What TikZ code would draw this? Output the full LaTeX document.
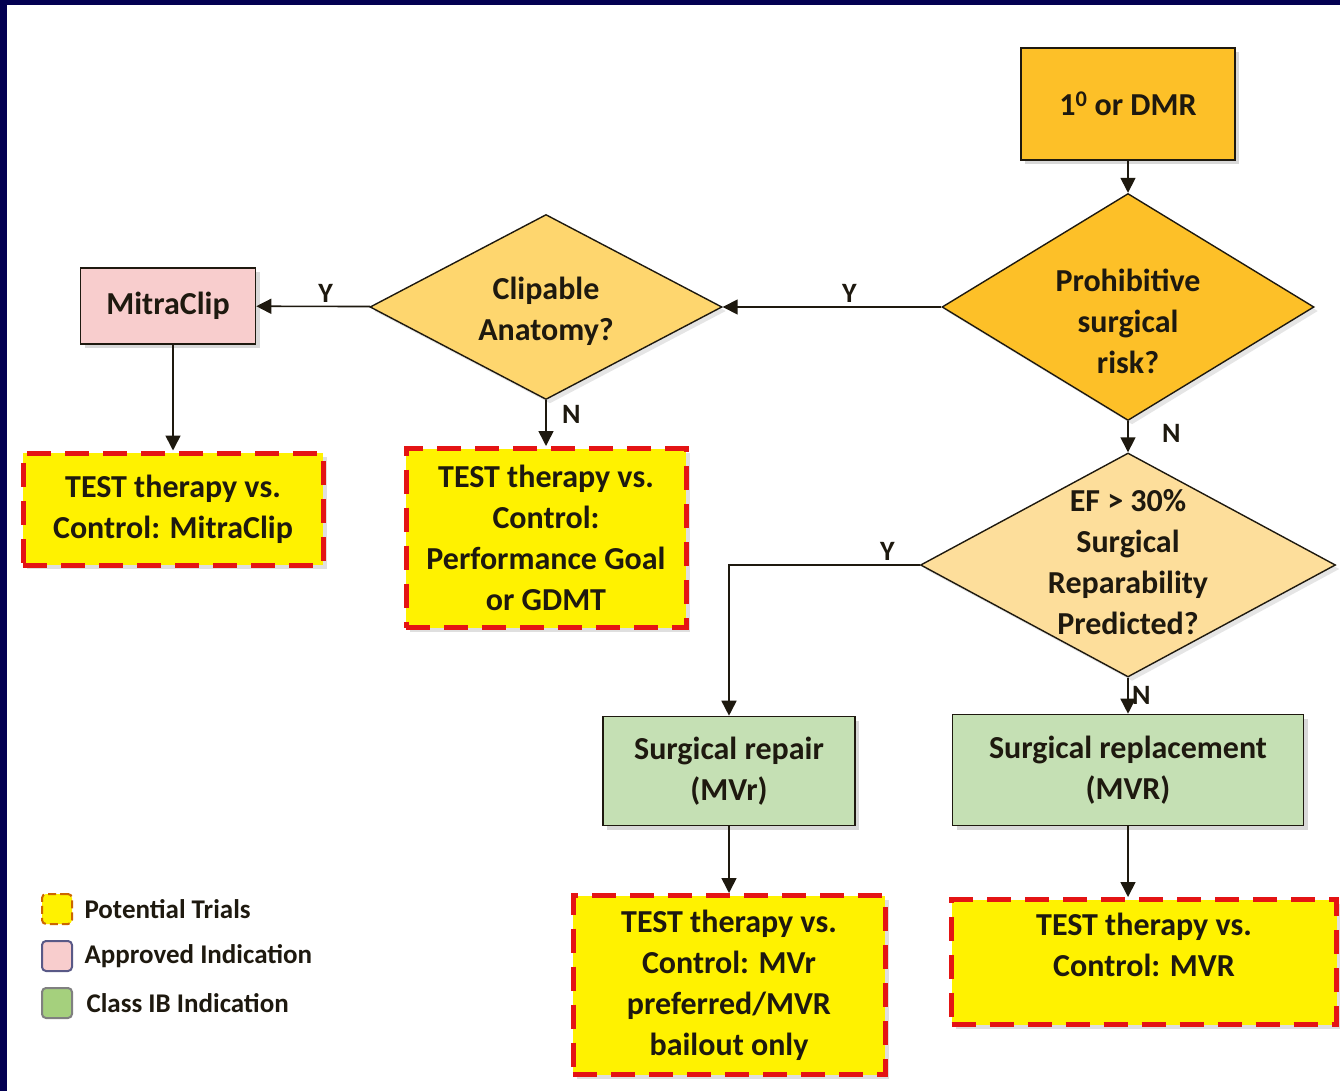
\documentclass[tikz,border=0pt]{standalone}
\usepackage{fontspec}
\setmainfont{Carlito}
\usepackage{tikz}
\usetikzlibrary{shapes.geometric, arrows.meta, positioning, shadows, calc}
\definecolor{navy}{RGB}{3,0,82}
\definecolor{gold}{RGB}{253,192,40}
\definecolor{palegold}{RGB}{254,214,110}
\definecolor{sand}{RGB}{253,222,155}
\definecolor{blush}{RGB}{248,205,205}
\definecolor{sage}{RGB}{197,224,180}
\definecolor{leaf}{RGB}{165,208,125}
\definecolor{dashred}{RGB}{228,20,20}
\definecolor{ink}{RGB}{30,25,15}

\begin{document}
\begin{tikzpicture}[
    x=1pt, y=-1pt,
    every node/.style={font=\fontsize{32}{41}\selectfont\bfseries, text=ink},
    box/.style={rectangle, draw=ink, line width=1.6pt, align=center, drop shadow={shadow xshift=4pt, shadow yshift=-4pt, opacity=.3}},
    trial/.style={rectangle, fill=yellow, draw=dashred, line width=5pt, dash pattern=on 24pt off 14pt, align=center, drop shadow={shadow xshift=4pt, shadow yshift=-4pt, opacity=.25}},
    decision/.style={diamond, draw=ink, line width=1.4pt, inner sep=0pt, drop shadow={shadow xshift=4pt, shadow yshift=-4pt, opacity=.2}},
    arrow/.style={-{Triangle[length=15pt,width=15pt]}, line width=1.6pt, draw=ink},
    lbl/.style={font=\fontsize{28}{30}\selectfont\bfseries},
    key/.style={rectangle, rounded corners=4pt, minimum width=30pt, minimum height=30pt, line width=2pt},
    keytext/.style={font=\fontsize{27}{30}\selectfont\bfseries}
]
\useasboundingbox (0,0) rectangle (1340,1091);
\fill[navy] (0,0) rectangle (1340,1091);
\fill[white] (7,5) rectangle (1340,1091);

% Decisions
\node[box, fill=gold, minimum width=214pt, minimum height=112pt] (start) at (1128,104) {1\textsuperscript{0} or DMR};
\node[decision, fill=gold, minimum width=372pt, minimum height=227pt] (risk) at (1128,307) {};
\node[align=center] at ($(risk)+(0,14)$) {Prohibitive\\surgical\\risk?};
\node[decision, fill=palegold, minimum width=352pt, minimum height=185pt] (clip) at (546,307) {};
\node[align=center] at ($(clip)+(0,4)$) {Clipable\\Anatomy?};
\node[decision, fill=sand, minimum width=415pt, minimum height=224pt] (ef) at (1128,565) {};
\node[align=center] at ($(ef)+(0,-3)$) {EF > 30\%\\Surgical\\Reparability\\Predicted?};

% Indications
\node[box, fill=blush, minimum width=175pt, minimum height=76pt] (mitra) at (168,306) {MitraClip};
\node[box, fill=sage, minimum width=252pt, minimum height=109pt] (repair) at (729,771) {Surgical repair\\(MVr)};
\node[box, fill=sage, minimum width=351pt, minimum height=111pt] (replace) at (1128,770) {Surgical replacement\\(MVR)};

% Potential trials
\node[trial, minimum width=300pt, minimum height=112pt] (trialA) at (173,509) {TEST therapy vs.\\Control: MitraClip};
\node[trial, minimum width=280pt, minimum height=179pt] (trialB) at (546,538) {TEST therapy vs.\\Control:\\Performance Goal\\or GDMT};
\node[trial, minimum width=312pt, minimum height=179pt] (trialC) at (729,985) {TEST therapy vs.\\Control: MVr\\preferred/MVR\\bailout only};
\node[trial, minimum width=385pt, minimum height=125pt] (trialD) at (1144,962) {TEST therapy vs.\\Control: MVR\\[-6pt]};

% Arrows
\draw[arrow] (start) -- (risk);
\draw[arrow] (risk) -- node[lbl, above, pos=.42] {Y} (clip);
\draw[arrow] (clip) -- node[lbl, above, pos=.39] {Y} (mitra);
\draw[arrow] (mitra.south -| trialA.north) -- (trialA);
\draw[arrow] (clip) -- node[lbl, right, pos=.3, xshift=12pt] {N} (trialB);
\draw[arrow] (risk) -- node[lbl, right, pos=.4, xshift=30pt] {N} (ef);
\draw[arrow] (ef.west) -- node[lbl, above, pos=.17] {Y} (ef.west -| repair.north) -- (repair.north);
\draw[arrow] (ef) -- node[lbl, right, pos=.5] {N} (replace);
\draw[arrow] (repair) -- (trialC);
\draw[arrow] (replace.south) -- (replace.south |- trialD.north);

% Legend
\node[key, fill=yellow, draw=orange!80!black, dash pattern=on 8pt off 4pt] (keytrial) at (57,909) {};
\node[key, fill=blush, draw=black!40!blue!30!gray] (keyapproved) at (57,956) {};
\node[key, fill=leaf, draw=gray] (keyclass) at (57,1003) {};
\node[keytext, right=8pt of keytrial] {Potential Trials};
\node[keytext, right=8pt of keyapproved] {Approved Indication};
\node[keytext, right=10pt of keyclass] {Class IB Indication};

\end{tikzpicture}
\end{document}
